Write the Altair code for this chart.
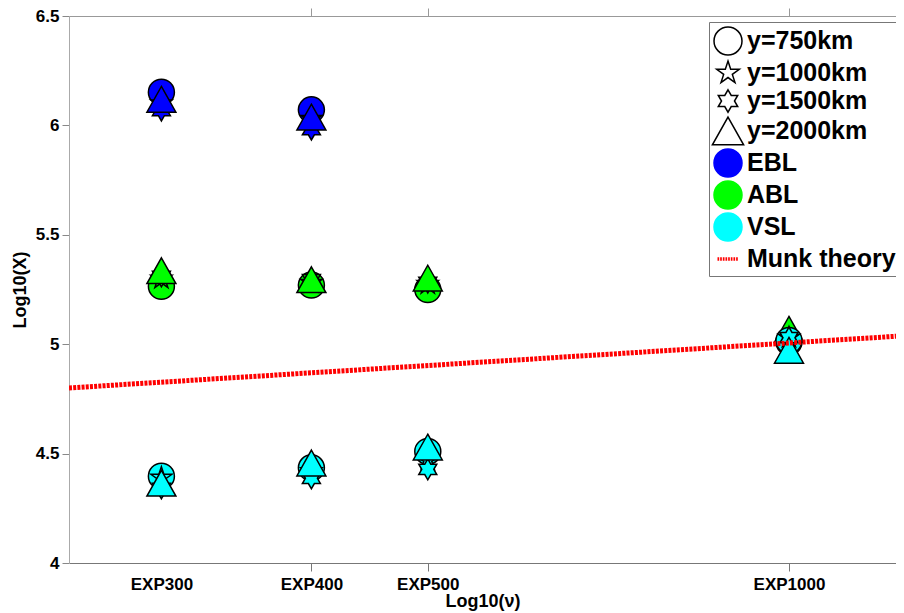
import math
import altair as alt
import pandas as pd

# ---------------- data ----------------
experiments = ["EXP300", "EXP400", "EXP500", "EXP1000"]
exp_logv = [2.477, 2.602, 2.699, 3.0]          # x position, Log10(nu)
distances = ["y=750km", "y=1000km", "y=1500km", "y=2000km"]
layers = ["EBL", "ABL", "VSL"]
layer_colors = ["#0000ff", "#00ff00", "#00ffff"]

# Log10(X) for each layer / distance, per experiment (None = not plotted)
ebl_750 = [6.152, 6.071, None, None]
ebl_1000 = [6.100, 6.030, None, None]
ebl_1500 = [6.068, 5.981, None, None]
ebl_2000 = [6.119, 6.038, None, None]
abl_750 = [5.265, 5.270, 5.250, 5.010]
abl_1000 = [5.300, 5.280, 5.275, 5.000]
abl_1500 = [5.310, 5.295, 5.282, 5.000]
abl_2000 = [5.336, 5.295, 5.302, 5.068]
vsl_750 = [4.397, 4.435, 4.510, 5.017]
vsl_1000 = [4.390, 4.420, 4.470, 5.030]
vsl_1500 = [4.341, 4.387, 4.428, 5.030]
vsl_2000 = [4.365, 4.457, 4.530, 4.972]

munk_logv = [2.40, 3.10]
munk_logx = [4.80, 5.04]

legend_keys = distances + layers + ["Munk theory"]

# ---------------- tables ----------------
series = {
    ("EBL", "y=750km"): ebl_750, ("EBL", "y=1000km"): ebl_1000,
    ("EBL", "y=1500km"): ebl_1500, ("EBL", "y=2000km"): ebl_2000,
    ("ABL", "y=750km"): abl_750, ("ABL", "y=1000km"): abl_1000,
    ("ABL", "y=1500km"): abl_1500, ("ABL", "y=2000km"): abl_2000,
    ("VSL", "y=750km"): vsl_750, ("VSL", "y=1000km"): vsl_1000,
    ("VSL", "y=1500km"): vsl_1500, ("VSL", "y=2000km"): vsl_2000,
}
rows = []
for layer in layers:
    for dist in distances:
        for ei, v in enumerate(series[(layer, dist)]):
            if v is None:
                continue
            rows.append(dict(layer=layer, dist=dist, exp=experiments[ei],
                             logv=exp_logv[ei], logx=v, idx=len(rows)))
df = pd.DataFrame(rows)
munk_df = pd.DataFrame({"logv": munk_logv, "logx": munk_logx})
legend_df = pd.DataFrame({"key": legend_keys})


# ---------------- marker shapes ----------------
def star_path(n, r_out, r_in):
    pts = []
    for i in range(2 * n):
        ang = -math.pi / 2 + i * math.pi / n
        r = r_out if i % 2 == 0 else r_in
        pts.append((r * math.cos(ang), r * math.sin(ang)))
    return "M" + "L".join(f"{x:.3f},{y:.3f}" for x, y in pts) + "Z"


pentagram = star_path(5, 0.85, 0.85 * 0.382)
hexagram = star_path(6, 0.80, 0.80 / math.sqrt(3))
triangle = "M0,-0.99L1.115,0.99L-1.115,0.99Z"
stripes = "".join(
    f"M{-0.75 + i * 0.19:.3f},-0.12H{-0.75 + i * 0.19 + 0.12:.3f}V0.12H{-0.75 + i * 0.19:.3f}Z"
    for i in range(8)
)
dist_shapes = ["circle", pentagram, hexagram, triangle]

legend_shapes = dist_shapes + ["circle", "circle", "circle", stripes]
legend_fills = ["white"] * 4 + layer_colors + ["#ff0000"]
legend_strokes = ["black"] * 4 + layer_colors + ["transparent"]

# ---------------- axes ----------------
x_scale = alt.Scale(domain=[2.4, 3.0892], nice=False, zero=False)
y_scale = alt.Scale(domain=[4, 6.5], nice=False, zero=False)

label_expr = (
    f"datum.value < {(exp_logv[0] + exp_logv[1]) / 2} ? '{experiments[0]}' : "
    f"datum.value < {(exp_logv[1] + exp_logv[2]) / 2} ? '{experiments[1]}' : "
    f"datum.value < {(exp_logv[2] + exp_logv[3]) / 2} ? '{experiments[2]}' : '{experiments[3]}'"
)
tick_op = {"expr": f"datum.value < {(exp_logv[0] + exp_logv[1]) / 2} ? 0 : 1"}

x_bottom = alt.Axis(orient="bottom", values=exp_logv, labelExpr=label_expr,
                    tickOpacity=tick_op, title="Log10(ν)", tickSize=8,
                    labelPadding=5, titlePadding=0, domainColor="#777777",
                    tickColor="#777777")
x_top = alt.Axis(orient="top", values=exp_logv, labels=False, title=None,
                 tickOpacity=tick_op, tickSize=8, domainColor="#999999",
                 tickColor="#999999")
y_axis = alt.Axis(values=[4, 4.5, 5, 5.5, 6, 6.5], labelExpr="datum.value + ''",
                  title="Log10(X)", tickSize=7, labelPadding=3, titlePadding=6,
                  domainColor="#aaaaaa", tickColor="#888888")

points = alt.Chart(df).mark_point(
    filled=True, size=676, stroke="black", strokeWidth=1.5, opacity=1
).encode(
    x=alt.X("logv:Q", scale=x_scale, axis=x_bottom),
    y=alt.Y("logx:Q", scale=y_scale, axis=y_axis),
    shape=alt.Shape("dist:N", scale=alt.Scale(domain=distances, range=dist_shapes), legend=None),
    fill=alt.Fill("layer:N", scale=alt.Scale(domain=layers, range=layer_colors), legend=None),
    order=alt.Order("idx:Q"),
)

munk = alt.Chart(munk_df).mark_line(
    color="#ff0000", strokeWidth=5, strokeDash=[3, 1.2], clip=True
).encode(
    x=alt.X("logv:Q", scale=x_scale, axis=x_top),
    y=alt.Y("logx:Q", scale=y_scale, axis=y_axis),
)

leg = alt.Legend(
    orient="none", legendX=640, legendY=6, title=None,
    labelFontSize=25, labelFontWeight="bold", labelColor="black",
    labelFont="Liberation Sans", labelLimit=400, labelOffset=4,
    strokeColor="#777777", fillColor="white", padding=4,
    symbolSize=784, symbolStrokeWidth=1.5, rowPadding=-2,
)

legend_layer = alt.Chart(legend_df).mark_point(
    filled=True, size=784, strokeWidth=1.5, opacity=1, clip=True
).encode(
    x=alt.value(-300),
    y=alt.value(-300),
    shape=alt.Shape("key:N", scale=alt.Scale(domain=legend_keys, range=legend_shapes), legend=leg),
    fill=alt.Fill("key:N", scale=alt.Scale(domain=legend_keys, range=legend_fills), legend=leg),
    stroke=alt.Stroke("key:N", scale=alt.Scale(domain=legend_keys, range=legend_strokes), legend=leg),
)

chart = alt.layer(points, munk, legend_layer).resolve_scale(
    shape="independent", fill="independent", stroke="independent"
).resolve_axis(x="independent").properties(
    width=827, height=547,
    autosize=alt.AutoSizeParams(type="none"),
    padding={"left": 61, "top": 8, "right": 0, "bottom": 49},
).configure(
    font="Liberation Sans"
).configure_view(
    stroke=None
).configure_axis(
    grid=False, labelFont="Liberation Sans", labelFontWeight="bold",
    labelFontSize=17, labelColor="black", titleFont="Liberation Sans",
    titleFontWeight="bold", titleFontSize=18, titleColor="black",
)

chart.save("out.html", embed_options={"renderer": "svg", "actions": False})
